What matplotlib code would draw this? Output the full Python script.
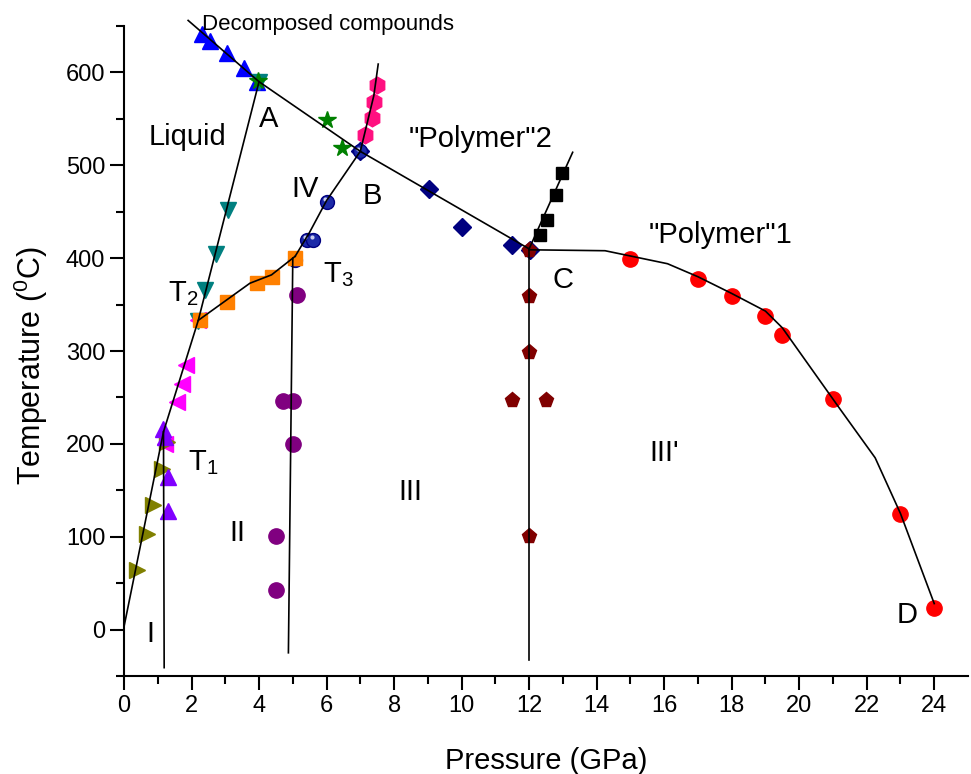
import numpy as np
import matplotlib
matplotlib.use("Agg")
import matplotlib.pyplot as plt

plt.rcParams['font.family'] = ['Liberation Sans', 'DejaVu Sans']
plt.rcParams['mathtext.fontset'] = 'custom'
plt.rcParams['mathtext.rm'] = 'Liberation Sans'
plt.rcParams['mathtext.it'] = 'Liberation Sans'

# ---- data (P in GPa, T in degC) ----
decomp_p = [2.30, 2.56, 3.06, 3.56, 3.93]
decomp_t = [641, 634, 621, 605, 590]

star_p = [3.98, 6.0, 6.45]
star_t = [591, 549, 519]

hex_p = [7.49, 7.42, 7.34, 7.14]
hex_t = [587, 568, 551, 533]

sphere_p = [5.07, 5.41, 5.61, 6.0, 6.99]
sphere_t = [398, 420, 420, 461, 515]

diam_p = [7.0, 9.02, 10.0, 11.49, 12.03]
diam_t = [515, 474, 434, 414, 409]

blksq_p = [12.31, 12.52, 12.8, 12.97]
blksq_t = [425, 441, 468, 492]

pent_p = [12.0, 12.0, 12.0, 11.5, 12.5, 12.0]
pent_t = [409, 359, 299, 247, 247, 101]

red_p = [15.0, 17.0, 18.0, 19.0, 19.5, 21.0, 23.0, 24.0]
red_t = [399, 378, 359, 338, 317, 248, 124, 23]

orange_p = [2.25, 3.04, 3.93, 4.37, 5.07]
orange_t = [333, 353, 373, 380, 400]

teal_p = [2.2, 2.40, 2.73, 3.08, 4.0]
teal_t = [332, 366, 405, 452, 590]

magenta_p = [1.21, 1.56, 1.71, 1.84, 2.2]
magenta_t = [200, 245, 265, 285, 333]

violet_p = [1.17, 1.21, 1.31, 1.31]
violet_t = [216, 207, 164, 128]

olive_p = [0.38, 0.67, 0.87, 1.12, 1.26]
olive_t = [64, 103, 134, 173, 202]

purple_p = [5.12, 4.72, 5.01, 5.02, 4.49, 4.49]
purple_t = [360, 246, 246, 200, 101, 43]

# phase boundaries
decomp_line_p = [1.9, 4.0, 7.0, 12.0]
decomp_line_t = [656, 590, 515, 410]
melt_line_p = [0.0, 1.17, 2.2, 4.0]
melt_line_t = [3, 213, 333, 590]
t2t3_line_p = [2.2, 3.73, 4.37, 5.07]
t2t3_line_t = [333, 373, 382, 402]
iv_line_p = [5.07, 5.5, 6.0, 7.0]
iv_line_t = [402, 428, 462, 515]
hex_line_p = [7.0, 7.2, 7.4, 7.53]
hex_line_t = [515, 545, 575, 609]
c_line_p = [12.0, 13.29]
c_line_t = [410, 514]
poly1_line_p = [12.0, 14.25, 16.1, 17.0, 18.0, 19.0, 19.5, 21.2, 22.25, 23.0, 24.0]
poly1_line_t = [409, 408, 394, 380, 362, 343, 325, 238, 185, 125, 28]
v1_p = [1.17, 1.19]
v1_t = [213, -41]
v2_p = [5.0, 4.87]
v2_t = [400, -25]
v3_p = [12.0, 12.0]
v3_t = [410, -33]

fig = plt.figure(figsize=(9.71, 7.74), dpi=100)
ax = fig.add_axes([0.1277, 0.1266, 0.8692, 0.8398])

ms = 11
ax.plot(decomp_p, decomp_t, '^', color='#0000ff', ms=12, zorder=2)
ax.plot(teal_p, teal_t, 'v', color='#008080', ms=12, zorder=2)
ax.plot(star_p, star_t, '*', color='#008000', ms=13, zorder=2)
ax.plot(hex_p, hex_t, 'h', color='#ff1080', ms=12, zorder=2)
ax.plot(diam_p, diam_t, 'D', color='#000080', ms=9, zorder=2)
ax.plot(sphere_p, sphere_t, 'o', color='#1c2aa8', mec='#000080', ms=10, zorder=2.1)
ax.plot([p - 0.05 for p in sphere_p], [t + 3 for t in sphere_t], 'o', color='#c8ccf0',
        mec='none', ms=3, zorder=2.2)
ax.plot(blksq_p, blksq_t, 's', color='black', ms=9, zorder=2)
ax.plot(pent_p, pent_t, 'p', color='#800000', ms=11, zorder=2)
ax.plot(red_p, red_t, 'o', color='#ff0000', ms=ms, zorder=2)
ax.plot(magenta_p, magenta_t, '<', color='#ff00ff', ms=12, zorder=2)
ax.plot(olive_p, olive_t, '>', color='#808000', ms=12, zorder=2)
ax.plot(violet_p, violet_t, '^', color='#8000ff', ms=12, zorder=2)
ax.plot(orange_p, orange_t, 's', color='#ff8000', ms=10, zorder=2.3)
ax.plot(purple_p, purple_t, 'o', color='#800080', ms=ms, zorder=2)

for xs, ys in [(decomp_line_p, decomp_line_t), (melt_line_p, melt_line_t),
               (t2t3_line_p, t2t3_line_t), (iv_line_p, iv_line_t),
               (hex_line_p, hex_line_t), (c_line_p, c_line_t),
               (poly1_line_p, poly1_line_t), (v1_p, v1_t), (v2_p, v2_t), (v3_p, v3_t)]:
    ax.plot(xs, ys, '-', color='black', lw=1.2, zorder=3, clip_on=False)

fs = 21
ax.text(2.3, 652, 'Decomposed compounds', fontsize=16, va='center', clip_on=False)
labels = [
    (1.87, 530, 'Liquid'), (4.27, 550, 'A'), (5.36, 474, 'IV'), (7.35, 467, 'B'),
    (10.55, 528, '"Polymer"2'), (13.0, 377, 'C'), (17.66, 425, '"Polymer"1'),
    (1.75, 362, r'T$_2$'), (6.35, 382, r'T$_3$'), (2.35, 180, r'T$_1$'),
    (3.35, 104, 'II'), (8.47, 148, 'III'), (16.0, 190, "III'"),
    (0.77, -5, 'I'), (23.2, 16, 'D'),
]
for x, y, s in labels:
    ax.text(x, y, s, fontsize=fs, ha='center', va='center')

ax.set_xlim(0, 25)
ax.set_ylim(-50, 650)
ax.set_xticks(np.arange(0, 25, 2))
ax.set_xticks(np.arange(1, 25, 2), minor=True)
ax.set_yticks(np.arange(0, 601, 100))
ax.set_yticks(np.arange(-50, 651, 100), minor=True)
ax.tick_params(which='major', direction='out', length=10, width=1.5, labelsize=17)
ax.tick_params(which='minor', direction='out', length=6, width=1.5)
ax.spines['top'].set_visible(False)
ax.spines['right'].set_visible(False)
ax.spines['left'].set_linewidth(1.5)
ax.spines['bottom'].set_linewidth(1.5)
ax.set_xlabel('Pressure (GPa)', fontsize=21, labelpad=22)
ax.set_ylabel(r'Temperature ($^0$C)', fontsize=22)
ax.yaxis.set_label_coords(-0.088, 0.478)

fig.savefig('out.png', dpi=100)
